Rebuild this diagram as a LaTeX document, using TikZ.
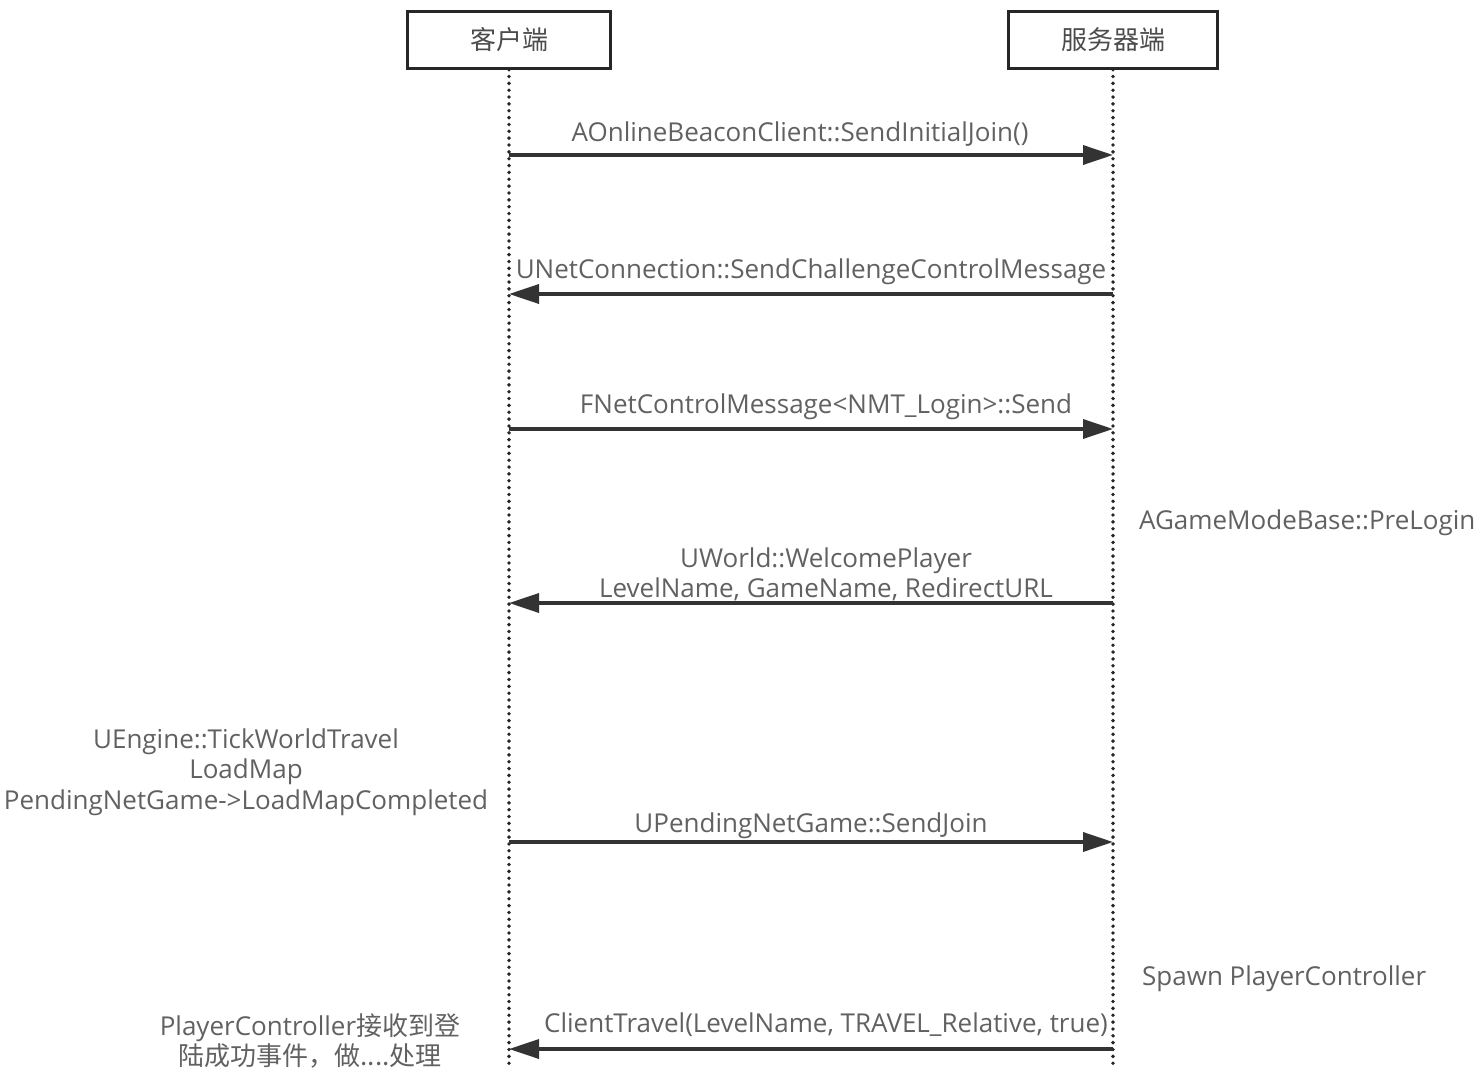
\documentclass[tikz,border=0pt]{standalone}
\usepackage{fontspec}
\setmainfont{Open Sans}
\newfontfamily\cjk{Noto Sans CJK SC}
\usetikzlibrary{arrows.meta}

\begin{document}
\begin{tikzpicture}[
    x=0.02cm,y=-0.02cm,
    every node/.style={text=black!62,font=\fontsize{14.8}{17.5}\selectfont,inner sep=1pt},
    actor/.style={draw=black!85,line width=1.6pt,minimum width=4.05cm,minimum height=1.13cm,text=black!70},
    lifeline/.style={draw=black!85,line width=2.2pt,line cap=round,dash pattern=on 0pt off 3.9pt},
    msg/.style={draw=black!80,line width=2pt,-{Triangle[length=0.6cm,width=0.38cm]}},
    msg label/.style={above=3pt,align=center},
  ]
  \useasboundingbox (0,0) rectangle (1483,1077);
  % lifelines
  \node[actor] (client) at (509,40) {\cjk 客户端};
  \node[actor,minimum width=4.17cm] (server) at (1113,40) {\cjk 服务器端};
  \coordinate (client end) at (509,1068);
  \coordinate (server end) at (1113,1068);
  \path[lifeline] (client.south) -- (client end);
  \path[lifeline] (server.south) -- (server end);
  % messages
  \foreach \y/\n in {155/1,294/2,429/3,603/4,842/5,1049/6}{
    \coordinate (c\n) at (509,\y);
    \coordinate (s\n) at (1113,\y);
  }
  \path[msg] (c1) -- (s1) node[midway,msg label,xshift=-0.22cm] {AOnlineBeaconClient::SendInitialJoin()};
  \path[msg] (s2) -- (c2) node[midway,msg label] {UNetConnection::SendChallengeControlMessage};
  \path[msg] (c3) -- (s3) node[midway,msg label,xshift=0.3cm] {FNetControlMessage<NMT\_Login>::Send};
  \path[msg] (s4) -- (c4) node[midway,msg label,above=-4pt,xshift=0.3cm] {UWorld::WelcomePlayer\\LevelName, GameName, RedirectURL};
  \path[msg] (c5) -- (s5) node[midway,msg label,above=-3pt] {UPendingNetGame::SendJoin};
  \path[msg] (s6) -- (c6) node[midway,msg label,above=2pt,xshift=0.3cm] {ClientTravel(LevelName, TRAVEL\_Relative, true)};
  % notes
  \node[anchor=west] (prelogin) at (1137,523) {AGameModeBase::PreLogin};
  \node[anchor=west] (spawn) at (1140,979) {Spawn PlayerController};
  \node[align=center] (travel) at (246,772) {UEngine::TickWorldTravel\\LoadMap\\PendingNetGame->LoadMapCompleted};
  \node[align=center] (login) at (310,1041) {PlayerController{\cjk 接收到登}\\{\cjk 陆成功事件，做....处理}};
\end{tikzpicture}
\end{document}
